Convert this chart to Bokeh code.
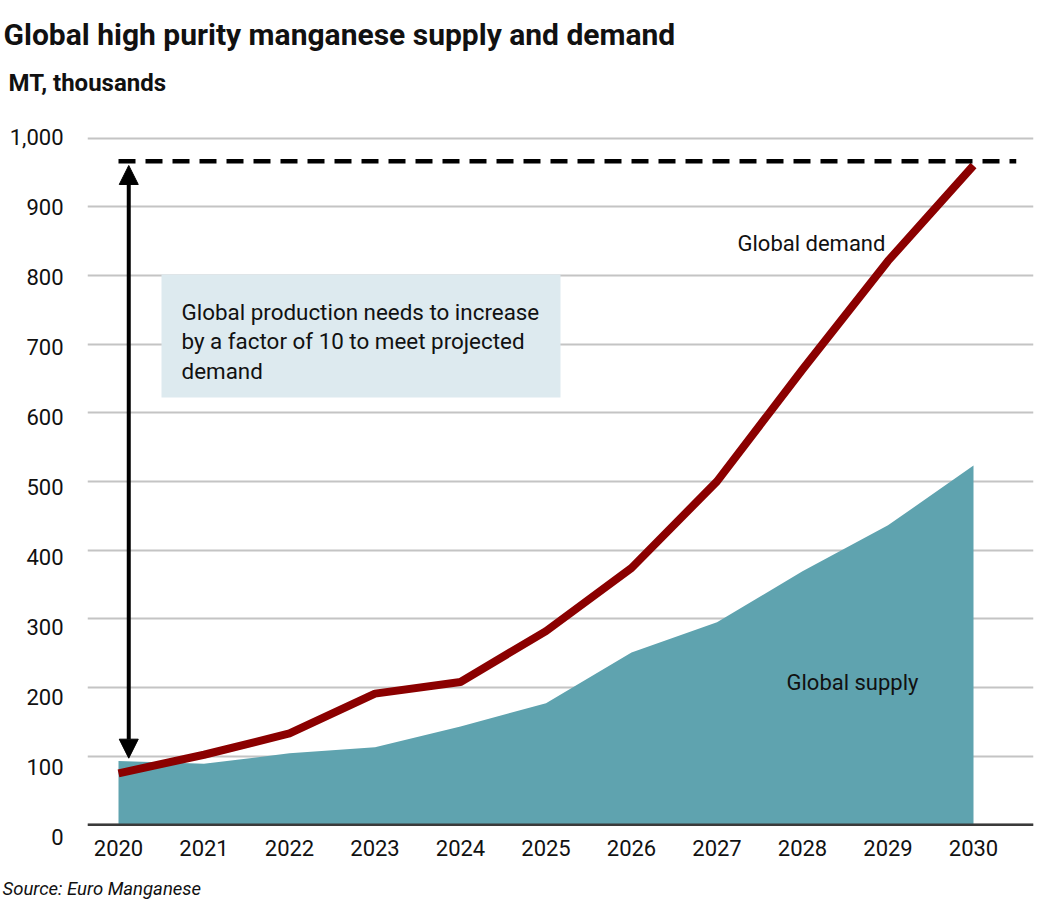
from bokeh.plotting import figure
from bokeh.layouts import column
from bokeh.models import (Range1d, LinearAxis, FixedTicker, Label, Span, Arrow,
                          NormalHead, BoxAnnotation)
from bokeh.embed import file_html
from bokeh.resources import INLINE

# ---------------- data ----------------
years = [2020, 2021, 2022, 2023, 2024, 2025, 2026, 2027, 2028, 2029, 2030]
demand = [75, 102, 133, 191, 208, 282, 374, 500, 663, 821, 960]
supply = [93, 89, 104, 113, 143, 177, 251, 295, 369, 436, 523]
y_ticks = [0, 100, 200, 300, 400, 500, 600, 700, 800, 900, 1000]
y_tick_labels = ["0", "100", "200", "300", "400", "500", "600", "700", "800", "900", "1,000"]
x_tick_labels = [str(y) for y in years]
target_level = 966      # dashed line: projected 2030 demand
arrow_low = 97          # arrow bottom (2020 production level)

title_text = "Global high purity manganese supply and demand"
subtitle_text = "MT, thousands"
source_text = "Source: Euro Manganese"
demand_label = "Global demand"
supply_label = "Global supply"
note_lines = ["Global production needs to increase",
              "by a factor of 10 to meet projected",
              "demand"]

FONT = "Roboto"
TXT = "#111111"

# ---------------- layout (page pixels) ----------------
W, H = 1056, 899
HEAD_H = 120            # header strip (title, subtitle)
FOOT_TOP = 870          # footer strip (source)
FL, FR, FT, FB = 87, 1033, 120, 838
X0PX, XPX = 118.0, 85.5        # pixel of first year, pixels per year
Y0PX, YPX = 824.3, 0.6868      # pixel of zero, pixels per unit
LY0PX, LYPX = 836.7, 0.70      # tick-label placement scale (labels drift below grid)


def X(px):
    return years[0] + (px - X0PX) / XPX


def Y(py):
    return (Y0PX - py) / YPX


def LY(py):
    return (LY0PX - py) / LYPX


def strip(height):
    f = figure(width=W, height=height, x_range=Range1d(0, W), y_range=Range1d(height, 0),
               output_backend="svg", toolbar_location=None,
               x_axis_type=None, y_axis_type=None,
               min_border_left=0, min_border_right=0, min_border_top=0, min_border_bottom=0)
    f.outline_line_color = None
    f.background_fill_color = "white"
    f.border_fill_color = "white"
    f.frame_align = False
    return f


# ---------------- header ----------------
head = strip(HEAD_H)
head.add_layout(Label(x=3, y=34, text=title_text, text_font=FONT,
                      text_font_size="30px", text_font_style="bold", text_color=TXT,
                      text_baseline="alphabetic"))
head.add_layout(Label(x=8, y=82, text=subtitle_text, text_font=FONT,
                      text_font_size="24px", text_font_style="bold", text_color=TXT,
                      text_baseline="alphabetic"))

# ---------------- main chart ----------------
p = figure(width=W, height=FOOT_TOP - HEAD_H,
           x_range=Range1d(X(FL), X(FR)), y_range=Range1d(Y(FB), Y(FT)),
           output_backend="svg", toolbar_location=None,
           min_border_left=FL, min_border_right=W - FR,
           min_border_top=FT - HEAD_H, min_border_bottom=FOOT_TOP - FB)
p.frame_align = False
p.outline_line_color = None
p.background_fill_color = "white"
p.border_fill_color = "white"

p.xgrid.grid_line_color = None
p.ygrid.ticker = FixedTicker(ticks=y_ticks)
p.ygrid.grid_line_color = "#c4c4c4"
p.ygrid.grid_line_width = 2
p.yaxis.visible = False

p.extra_y_ranges = {"lab": Range1d(LY(FB), LY(FT))}
lab_axis = LinearAxis(y_range_name="lab", ticker=FixedTicker(ticks=y_ticks),
                      major_label_overrides={v: s for v, s in zip(y_ticks, y_tick_labels)})
lab_axis.axis_line_color = None
lab_axis.major_tick_line_color = None
lab_axis.minor_tick_line_color = None
lab_axis.major_tick_out = 0
lab_axis.major_tick_in = 0
lab_axis.major_label_standoff = 24
lab_axis.major_label_text_font = FONT
lab_axis.major_label_text_font_size = "22px"
lab_axis.major_label_text_color = TXT
p.add_layout(lab_axis, "left")

p.xaxis.ticker = FixedTicker(ticks=years)
p.xaxis.major_label_overrides = {y: s for y, s in zip(years, x_tick_labels)}
p.xaxis.axis_line_color = None
p.xaxis.major_tick_line_color = None
p.xaxis.minor_tick_line_color = None
p.xaxis.major_tick_out = 0
p.xaxis.major_tick_in = 0
p.xaxis.major_label_standoff = 1
p.xaxis.major_label_text_font = FONT
p.xaxis.major_label_text_font_size = "22px"
p.xaxis.major_label_text_color = TXT

# supply area
p.varea(x=years, y1=0, y2=supply, fill_color="#5fa3af", fill_alpha=1.0)

# baseline
p.add_layout(Span(location=0, dimension="width", line_color="#3a3a3a", line_width=2.5))

# demand line
p.line(x=years, y=demand, line_color="#8b0000", line_width=8, line_join="round")

# dashed target line
p.line(x=[years[0], years[-1] + 0.5], y=[target_level, target_level],
       line_color="black", line_width=4.5, line_dash="17 10")

# double-headed arrow
arrow_x = years[0] + 0.12
p.add_layout(Arrow(x_start=arrow_x, y_start=arrow_low, x_end=arrow_x, y_end=demand[-1],
                   line_color="black", line_width=4,
                   start=NormalHead(size=19, fill_color="black", line_color="black"),
                   end=NormalHead(size=19, fill_color="black", line_color="black")))

# note box
p.add_layout(BoxAnnotation(left=X(161), right=X(560), top=Y(274), bottom=Y(397),
                           fill_color="#ddeaef", fill_alpha=1.0, line_color=None))
for line_txt, base in zip(note_lines, [311, 340.5, 370]):
    p.add_layout(Label(x=X(181), y=Y(base), text=line_txt, text_font=FONT,
                       text_font_size="22.4px", text_color=TXT,
                       text_baseline="alphabetic", text_align="left"))

# series labels
p.add_layout(Label(x=X(737), y=Y(243), text=demand_label, text_font=FONT,
                   text_font_size="22px", text_color=TXT, text_baseline="alphabetic"))
p.add_layout(Label(x=X(786), y=Y(682), text=supply_label, text_font=FONT,
                   text_font_size="22px", text_color=TXT, text_baseline="alphabetic"))

# ---------------- footer ----------------
foot = strip(H - FOOT_TOP)
foot.add_layout(Label(x=2, y=888 - FOOT_TOP, text=source_text, text_font=FONT,
                      text_font_size="18.5px", text_font_style="italic", text_color=TXT,
                      text_baseline="alphabetic"))

layout = column(head, p, foot, spacing=0)
open("out.html", "w").write(file_html(layout, INLINE))
